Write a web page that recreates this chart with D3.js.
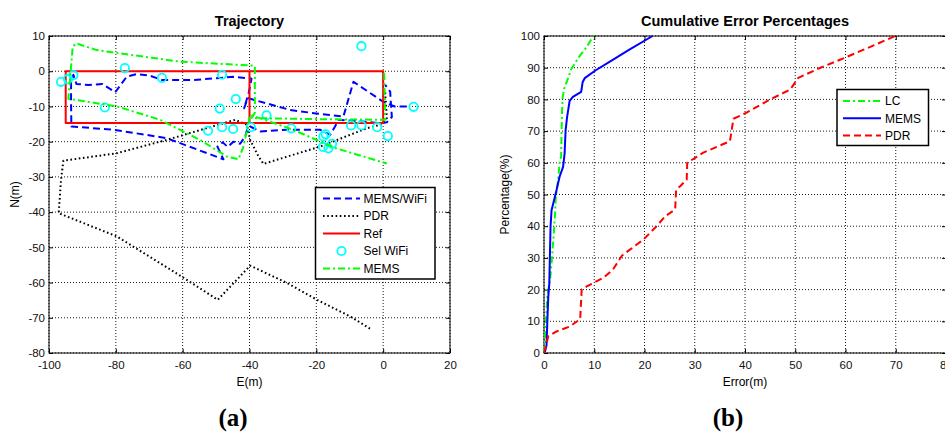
<!DOCTYPE html>
<html><head><meta charset="utf-8">
<script src="https://cdn.jsdelivr.net/npm/d3@7"></script>
<style>
body{margin:0;background:#fff;}
</style></head>
<body><svg id="c" width="945" height="432" font-family="'Liberation Sans',Arial,sans-serif"></svg>
<script>
// ---------- Data: left panel (Trajectory) ----------
const xTicksL = [-100,-80,-60,-40,-20,0,20];
const yTicksL = [10,0,-10,-20,-30,-40,-50,-60,-70,-80];
const memsWifi = [[7,-10],[3.5,-10],[1.5,-9.3],[-0.4,-8.4],[-8.9,-3.0],[-11.9,-12.9],[-20,-12],[-27.8,-11],[-38.8,-8.1],[-40.5,-7.6],[-41.6,-10.5],[-40.2,-6],[-39.4,-2.1],[-44.8,-1.6],[-48.8,-1.9],[-56.7,-2.5],[-66.2,-2.5],[-69.7,-1.3],[-73.7,-0.8],[-76.7,-1.5],[-80.2,-6.0],[-84,-3.6],[-88.2,-3.9],[-91.8,-3.6],[-92.7,-1.0],[-93.4,-3],[-93.4,-9],[-93.3,-15.7],[-80.7,-16.6],[-64.8,-19],[-47.8,-25],[-49.6,-21.4],[-48,-20.2],[-46.5,-21.5],[-44.8,-20],[-42.8,-20.6],[-41.3,-18.5],[-40.5,-16],[-39.8,-15.7],[-36.8,-17.1],[-28.8,-16.6],[-18.9,-16.6],[-15.9,-18.1],[-14.4,-15.7],[-13.4,-13.8],[-6,-14.3],[-0.9,-14.8],[1.1,-14.5],[2.6,-13.0],[2.3,-9],[2.1,-5.8],[0.6,-3.9]];
const pdr = [[0.6,-6],[1.1,-13.3],[-0.9,-15.2],[-4.9,-16.2],[-18.9,-21.4],[-35.8,-26.3],[-37.3,-24.2],[-39.8,-19.5],[-40.8,-15.2],[-44.3,-13.8],[-64.8,-19.5],[-79.8,-23.3],[-95.7,-25.4],[-96.4,-30.8],[-97.1,-40.3],[-79.7,-46.9],[-60.3,-58.3],[-49.5,-64.9],[-39.8,-55.2],[-28.8,-60.1],[-19.8,-64.9],[-9.9,-69.6],[-3.4,-73.4]];
const refPath = [[-40,0],[0,0],[0,-14.7],[-40,-14.7],[-40,0],[-95,0],[-95,-14.7],[-40,-14.7]];
const selWifi = [[-96.4,-3.0],[-94.3,-2.2],[-92.7,-1.1],[-77.3,0.9],[-83.3,-10.3],[-66.2,-1.9],[-48.2,-1.0],[-48.9,-10.6],[-44.1,-7.9],[-52.4,-16.9],[-48.2,-15.9],[-44.9,-16.4],[-39.6,-15.9],[-34.9,-12.5],[-27.5,-16.2],[-6.5,7.1],[9.1,-10.1],[1.4,-18.4],[-1.8,-15.9],[-6.5,-15.4],[-9.6,-15.4],[-17.2,-17.9],[-17.9,-18.5],[-18.0,-21.5],[-16.4,-21.9],[-15.3,-20.6]];
const memsL = [[0.3,-0.5],[0.6,-13.8],[-20,-13.6],[-39.3,-13.3],[-38.4,-11.8],[-38.4,1.3],[-38.8,1.6],[-60.7,2.7],[-85.7,6],[-91.8,7.9],[-92.9,7],[-94.2,-7.8],[-79.7,-10],[-66.7,-13.8],[-54.8,-19.5],[-46.8,-24.2],[-43.3,-25],[-41.8,-21.4],[-39.8,-12.4],[-27,-16.6],[-14.4,-21.8],[1.1,-26.2]];
const legendL = ["MEMS/WiFi","PDR","Ref","Sel WiFi","MEMS"];

// ---------- Data: right panel (Cumulative Error) ----------
const xTicksR = [0,10,20,30,40,50,60,70,80];
const yTicksR = [0,10,20,30,40,50,60,70,80,90,100];
const lcErr = [0,0.2,0.4,0.65,1.2,1.5,2.0,2.2,2.35,2.8,3.1,3.4,3.5,3.6,3.7,4.0,4.8,5.4,7.0,8.5,9.8];
const lcPct = [0,4,10.3,17.7,23,28.2,38.7,44,49.3,54.5,59.8,62,70,76.6,80.3,83.3,86.7,89.5,93.5,96.5,100];
const memsErr = [0,0.2,0.5,0.65,0.85,1.05,1.2,1.3,1.5,2.0,2.5,3.1,3.8,4.1,4.3,4.6,5.1,5.75,7.4,7.7,8.1,10.3,13.6,16.9,21.6];
const memsPct = [0,0.5,2.4,9.3,17.7,21.9,32.4,39.8,45,48.2,51.4,55.6,58.7,62.9,70.3,74.5,79.5,80.8,82.4,85.5,86.7,89.2,92.4,95.6,100];
const pdrErr = [0,0.86,2.5,5.2,7.2,7.5,8.5,11.8,13.7,15.5,17.1,19.8,22.4,24.1,26.1,26.3,27.1,28.4,28.5,31.7,37,37.7,40.3,45,49,50.6,54.9,58.9,63.5,69.9];
const pdrPct = [0,5.3,6.8,8.4,10.7,20,21,23.7,26.3,30.7,32.6,35.8,40,43.1,45.3,51.6,52.6,54.7,60,63.2,66.8,73.9,75.8,80,83.1,86.8,89.9,92.5,95.6,100];
const legendR = ["LC","MEMS","PDR"];

// ---------- Drawing ----------
const svg = d3.select("#c");
const FONT = "'Liberation Sans',Arial,sans-serif";
const SERIF = "'Liberation Serif','Times New Roman',serif";
const fmt = d => String(d);

function frame(x, y, xt, yt, title, xlab, ylab, ylabX) {
  const [xa, xb] = x.range(), [ya, yb] = y.range();
  const g = svg.append("g");
  g.selectAll(".gx").data(xt).join("line")
    .attr("x1", d=>x(d)).attr("x2", d=>x(d)).attr("y1", yb).attr("y2", ya)
    .attr("stroke","#000").attr("stroke-width",0.9).attr("stroke-dasharray","1,2");
  g.selectAll(".gy").data(yt).join("line")
    .attr("x1", xa).attr("x2", xb).attr("y1", d=>y(d)).attr("y2", d=>y(d))
    .attr("stroke","#000").attr("stroke-width",0.9).attr("stroke-dasharray","1,2");
  const ax = d3.axisBottom(x).tickValues(xt).tickSize(-4).tickPadding(8).tickFormat(fmt);
  const ay = d3.axisLeft(y).tickValues(yt).tickSize(-4).tickPadding(4).tickFormat(fmt);
  const gx = g.append("g").attr("transform",`translate(0,${ya})`).call(ax);
  const gy = g.append("g").attr("transform",`translate(${xa},0)`).call(ay);
  const gx2 = g.append("g").attr("transform",`translate(0,${yb})`).call(d3.axisTop(x).tickValues(xt).tickSize(-4).tickFormat(""));
  const gy2 = g.append("g").attr("transform",`translate(${xb},0)`).call(d3.axisRight(y).tickValues(yt).tickSize(-4).tickFormat(""));
  [gx,gy,gx2,gy2].forEach(a=>{
    a.select(".domain").remove();
    a.selectAll("line").attr("stroke","#000");
    a.selectAll("text").attr("font-family",FONT).attr("font-size",11.5).attr("fill","#111");
  });
  g.append("rect").attr("x",xa).attr("y",yb).attr("width",xb-xa).attr("height",ya-yb)
    .attr("fill","none").attr("stroke","#000").attr("stroke-width",1);
  g.append("text").attr("x",(xa+xb)/2).attr("y",26).attr("text-anchor","middle")
    .attr("font-weight","bold").attr("font-size",14.5).text(title);
  g.append("text").attr("x",(xa+xb)/2).attr("y",386).attr("text-anchor","middle")
    .attr("font-size",12).text(xlab);
  g.append("text").attr("transform",`translate(${ylabX},${(ya+yb)/2}) rotate(-90)`)
    .attr("text-anchor","middle").attr("font-size",12).text(ylab);
}

// Left panel
const xL = d3.scaleLinear().domain([-100,20]).range([49,450]);
const yL = d3.scaleLinear().domain([-80,10]).range([353,36]);
frame(xL, yL, xTicksL, yTicksL, "Trajectory", "E(m)", "N(m)", 19);
const lineL = d3.line().x(d=>xL(d[0])).y(d=>yL(d[1]));
const styles = {
  blueDash: {stroke:"#0000ff", dash:"7,4"},
  black: {stroke:"#000", dash:"1.6,2.6"},
  red: {stroke:"#ff0000", dash:null},
  green: {stroke:"#00ff00", dash:"7,3,2,3"},
  redDash: {stroke:"#ff0000", dash:"7,4"},
  blue: {stroke:"#0000ff", dash:null}
};
function path(data, line, st, w) {
  svg.append("path").attr("d", line(data)).attr("fill","none")
    .attr("stroke", st.stroke).attr("stroke-width", w||2)
    .attr("stroke-dasharray", st.dash).attr("stroke-linejoin","round");
}
path(memsWifi, lineL, styles.blueDash);
path(pdr, lineL, styles.black);
path(refPath, lineL, styles.red);
svg.append("g").selectAll("circle").data(selWifi).join("circle")
  .attr("cx", d=>xL(d[0])).attr("cy", d=>yL(d[1])).attr("r",4.2)
  .attr("fill","none").attr("stroke","#00ffff").attr("stroke-width",1.8);
path(memsL, lineL, styles.green);

// Left legend
const lgL = svg.append("g");
lgL.append("rect").attr("x",315.5).attr("y",187.5).attr("width",119.5).attr("height",91.5)
  .attr("fill","#fff").attr("stroke","#000").attr("stroke-width",1.5);
const lStyles = [styles.blueDash, styles.black, styles.red, null, styles.green];
legendL.forEach((name,i)=>{
  const yy = 198.5 + i*17.5;
  if (lStyles[i]) {
    lgL.append("line").attr("x1",323).attr("x2",360).attr("y1",yy).attr("y2",yy)
      .attr("stroke",lStyles[i].stroke).attr("stroke-width",2).attr("stroke-dasharray",lStyles[i].dash);
  } else {
    lgL.append("circle").attr("cx",341.5).attr("cy",yy).attr("r",4.2)
      .attr("fill","none").attr("stroke","#00ffff").attr("stroke-width",1.8);
  }
  lgL.append("text").attr("x",363.5).attr("y",yy+4.3).attr("font-size",12).text(name);
});

// Right panel
const xR = d3.scaleLinear().domain([0,80]).range([544,946]);
const yR = d3.scaleLinear().domain([0,100]).range([353,36]);
frame(xR, yR, xTicksR, yTicksR, "Cumulative Error Percentages", "Error(m)", "Percentage(%)", 509);
const lineR = d3.line().x(d=>xR(d[0])).y(d=>yR(d[1]));
path(d3.zip(lcErr, lcPct), lineR, styles.green);
path(d3.zip(memsErr, memsPct), lineR, styles.blue);
path(d3.zip(pdrErr, pdrPct), lineR, styles.redDash);

const lgR = svg.append("g");
lgR.append("rect").attr("x",837).attr("y",89.5).attr("width",91.5).attr("height",56)
  .attr("fill","#fff").attr("stroke","#000").attr("stroke-width",1.5);
const rStyles = [styles.green, styles.blue, styles.redDash];
legendR.forEach((name,i)=>{
  const yy = 101 + i*17.3;
  lgR.append("line").attr("x1",843).attr("x2",881).attr("y1",yy).attr("y2",yy)
    .attr("stroke",rStyles[i].stroke).attr("stroke-width",2).attr("stroke-dasharray",rStyles[i].dash);
  lgR.append("text").attr("x",885).attr("y",yy+4.3).attr("font-size",12).text(name);
});

// Panel captions
svg.append("text").attr("x",233).attr("y",426).attr("text-anchor","middle")
  .attr("font-family",SERIF).attr("font-weight","bold").attr("font-size",25).text("(a)");
svg.append("text").attr("x",728).attr("y",426).attr("text-anchor","middle")
  .attr("font-family",SERIF).attr("font-weight","bold").attr("font-size",25).text("(b)");
</script></body></html>
